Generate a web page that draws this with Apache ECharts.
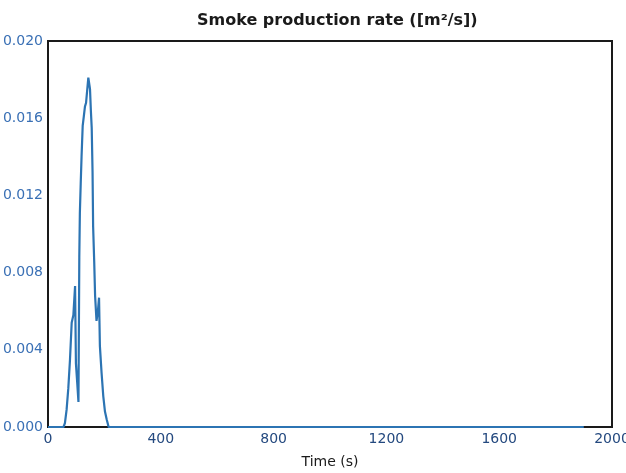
<!DOCTYPE html>
<html>
<head>
<meta charset="utf-8">
<script src="https://cdn.jsdelivr.net/npm/echarts@6/dist/echarts.min.js"></script>
<style>
  html, body { margin: 0; padding: 0; background: #fff; }
  #chart { width: 626px; height: 473px; }
</style>
</head>
<body>
<div id="chart"></div>
<script>
// time in seconds, smoke production rate in m2/s
var times = [0, 55, 60, 66, 72, 78, 84, 90, 96, 99, 104, 108, 111, 113, 116, 119, 123, 127, 131, 135, 139, 143, 146, 149, 152, 155, 158, 160, 164, 167, 172, 177, 181, 184, 190, 196, 202, 208, 215,
  350, 355, 360, 570, 573, 576, 1088, 1092, 1096, 1540, 1543, 1546, 1717, 1720, 1723, 1880, 1884, 1888, 1900];
var smoke = [0, 0, 0.0002, 0.0009, 0.0020, 0.0035, 0.0054, 0.0058, 0.0073, 0.0033, 0.0022, 0.0013, 0.0088, 0.0111, 0.0126, 0.0140, 0.0156, 0.0161, 0.0166, 0.0168, 0.0169, 0.0181, 0.0178, 0.0175, 0.0164, 0.0155, 0.0132, 0.0104, 0.0085, 0.0068, 0.0055, 0.0060, 0.0067, 0.0042, 0.0028, 0.0016, 0.0008, 0.0004, 0,
  0, 0.0001, 0, 0, 0.00008, 0, 0, 0.0001, 0, 0, 0.00008, 0, 0, 0.00008, 0, 0, 0.0001, 0, 0];
var xTicks = [0, 400, 800, 1200, 1600, 2000];
var yTicks = [0, 0.004, 0.008, 0.012, 0.016, 0.020];

var chart = echarts.init(document.getElementById('chart'));

var points = [];
for (var i = 0; i < times.length; i++) {
  points.push([times[i], smoke[i]]);
}

var option = {
  backgroundColor: '#fff',
  animation: false,
  title: {
    text: 'Smoke production rate ([m\u00b2/s])',
    left: 192,
    top: 8,
    textStyle: {
      fontFamily: 'DejaVu Sans',
      fontSize: 16,
      fontWeight: 'bold',
      color: '#1a1a1a'
    }
  },
  grid: {
    left: 48,
    right: 14,
    top: 41,
    bottom: 46,
    containLabel: false,
    outerBoundsMode: 'none',
    show: true,
    borderColor: '#1a1a1a',
    borderWidth: 2
  },
  xAxis: {
    type: 'value',
    min: xTicks[0],
    max: xTicks[xTicks.length - 1],
    interval: 400,
    name: 'Time (s)',
    nameLocation: 'middle',
    nameGap: 28,
    nameTextStyle: {
      fontFamily: 'DejaVu Sans',
      fontSize: 14,
      color: '#1a1a1a'
    },
    axisLine: { show: true, lineStyle: { color: '#1a1a1a', width: 2 } },
    axisTick: { show: false },
    splitLine: { show: false },
    axisLabel: {
      fontFamily: 'DejaVu Sans',
      fontSize: 14,
      color: '#24497f',
      margin: 5,
      formatter: function (v) { return String(v); }
    }
  },
  yAxis: {
    type: 'value',
    min: yTicks[0],
    max: yTicks[yTicks.length - 1],
    interval: 0.004,
    axisLine: { show: true, lineStyle: { color: '#1a1a1a', width: 2 } },
    axisTick: { show: false },
    splitLine: { show: false },
    axisLabel: {
      fontFamily: 'DejaVu Sans',
      fontSize: 14,
      color: '#3a70b5',
      margin: 5,
      formatter: function (v) { return v.toFixed(3); }
    }
  },
  series: [
    {
      type: 'line',
      data: points,
      showSymbol: false,
      z: 10,
      lineStyle: { color: '#2c74b3', width: 2.2 },
      itemStyle: { color: '#2c74b3' }
    }
  ]
};

chart.setOption(option);
</script>
</body>
</html>
